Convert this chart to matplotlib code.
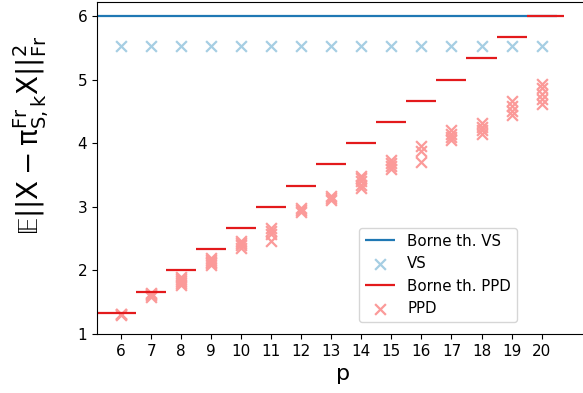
import matplotlib.pyplot as plt
import numpy as np

# dimensions p and theoretical bounds
p_values = [6, 7, 8, 9, 10, 11, 12, 13, 14, 15, 16, 17, 18, 19, 20]
bound_vs = [6.0] * 15
bound_ppd = [1.333, 1.667, 2.0, 2.333, 2.667, 3.0, 3.333, 3.667, 4.0,
             4.333, 4.667, 5.0, 5.333, 5.667, 6.0]

# observed errors (several runs per p)
vs_values = [5.52] * 15
ppd_values = [
    [1.30, 1.31, 1.32],
    [1.59, 1.61, 1.63, 1.65],
    [1.77, 1.80, 1.83, 1.86, 1.90],
    [2.08, 2.11, 2.14, 2.17, 2.20],
    [2.36, 2.40, 2.43, 2.46],
    [2.47, 2.57, 2.62, 2.66],
    [2.92, 2.95, 2.98],
    [3.11, 3.14, 3.17],
    [3.30, 3.35, 3.40, 3.45, 3.49],
    [3.59, 3.64, 3.69, 3.73],
    [3.71, 3.88, 3.95],
    [4.05, 4.10, 4.15, 4.20],
    [4.14, 4.20, 4.26, 4.32],
    [4.44, 4.51, 4.59, 4.67],
    [4.62, 4.70, 4.78, 4.86, 4.93],
]

plt.rcParams['mathtext.default'] = 'regular'

fig = plt.figure(figsize=(5.83, 3.93), dpi=100)
ax = fig.add_axes([0.1664, 0.150, 0.845, 0.845])

xlim = (5.2, 21.6)
p = np.array(p_values, dtype=float)

left = p - 0.5
left[0] = xlim[0]
right = p + 0.5
ax.hlines(bound_vs, left, right, color='#1f78b4', lw=1.6, label='Borne th. VS')
ax.scatter(p, vs_values, marker='x', s=60, linewidths=1.6, color='#a6cee3', label='VS')

right_ppd = p + 0.5
right_ppd[-1] = p[-1] + 0.75
ax.hlines(bound_ppd, left, right_ppd, color='#e31a1c', lw=1.6, label='Borne th. PPD')
xs = [pi for pi, vals in zip(p_values, ppd_values) for _ in vals]
ys = [v for vals in ppd_values for v in vals]
ax.scatter(xs, ys, marker='x', s=60, linewidths=1.6, color='#fb9a99', label='PPD')

ax.set_xlim(*xlim)
ax.set_ylim(1, 6.22)
ax.set_xticks(p_values)
ax.set_yticks([1, 2, 3, 4, 5, 6])
ax.tick_params(labelsize=11)
ax.set_xlabel('p', fontsize=16)
ax.set_ylabel(r'$\mathbb{E}||X - \pi^{Fr}_{S,k}X||^2_{Fr}$', fontsize=20)
ax.yaxis.set_label_coords(-0.094, 0.6)

ax.legend(loc='lower left', bbox_to_anchor=(0.532, 0.036), borderaxespad=0,
          fontsize=10.8)

fig.savefig('out.png', dpi=100)
